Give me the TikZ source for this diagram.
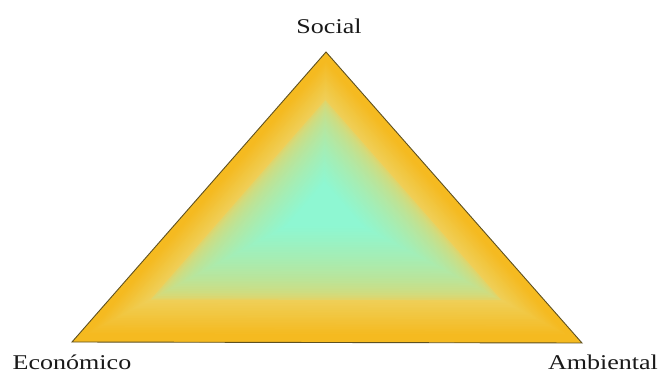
\documentclass[tikz,border=0pt]{standalone}
\usepackage{fontspec}
\setmainfont{Liberation Serif}
\usetikzlibrary{calc}
\definecolor{edgeorange}{HTML}{F5BA20}
\definecolor{midyellow}{HTML}{EFCF58}
\definecolor{centermint}{HTML}{8EF7D2}
\definecolor{outline}{HTML}{5E5020}
\tikzset{
  lbl/.style={font=\fontsize{21}{24}\selectfont, xscale=1.24, text=black!90, inner sep=0pt},
}
\begin{document}
\begin{tikzpicture}[x=1pt,y=-1pt]
\useasboundingbox (0,0) rectangle (659,374);
\coordinate (A) at (326,52);
\coordinate (L) at (72,342);
\coordinate (R) at (582,343);
\coordinate (C) at (324,206);
\foreach \i in {0,...,80}{
  \pgfmathsetmacro\s{1-\i/80}
  \pgfmathsetmacro\t{\i/80}
  \ifdim\t pt<0.30pt
    \pgfmathsetmacro\p{max(0,min(100,100*(\t-0.05)/0.25))}
    \colorlet{cur}{midyellow!\p!edgeorange}
  \else
    \pgfmathsetmacro\p{max(0,min(100,100*sqrt((\t-0.30)/0.55)))}
    \colorlet{cur}{centermint!\p!midyellow}
  \fi
  \fill[cur] ($(C)!\s!(A)$) -- ($(C)!\s!(L)$) -- ($(C)!\s!(R)$) -- cycle;
}
\draw[outline, line width=0.9pt, line join=miter] (A) -- (L) -- (R) -- cycle;
\node[lbl] (soc) at (329,26) {Social};
\node[lbl] (eco) at (72,362) {Económico};
\node[lbl] (amb) at (603,362) {Ambiental};
\end{tikzpicture}
\end{document}
